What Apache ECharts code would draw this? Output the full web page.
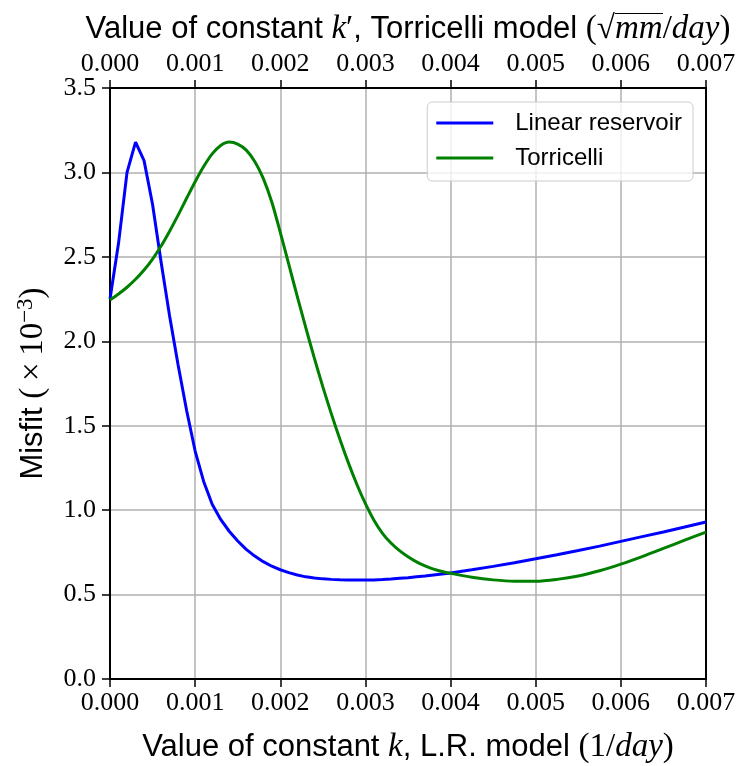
<!DOCTYPE html>
<html><head><meta charset="utf-8">
<script src="https://cdn.jsdelivr.net/npm/echarts@6/dist/echarts.min.js"></script>
<style>html,body{margin:0;padding:0;background:#fff}#c{width:742px;height:766px}</style>
</head><body><div id="c"></div>
<script>
// Values of constant k (bottom axis) and k' (top axis)
const kValues = [
  0.0000,0.0001,0.0002,0.0003,0.0004,0.0005,0.0006,0.0007,0.0008,0.0009,
  0.0010,0.0011,0.0012,0.0013,0.0014,0.0015,0.0016,0.0017,0.0018,0.0019,
  0.0020,0.0021,0.0022,0.0023,0.0024,0.0025,0.0026,0.0027,0.0028,0.0029,
  0.0030,0.0031,0.0032,0.0033,0.0034,0.0035,0.0036,0.0037,0.0038,0.0039,
  0.0040,0.00425,0.0045,0.00475,0.0050,0.00525,0.0055,0.00575,0.0060,0.00625,
  0.0065,0.00675,0.0070
];
// Misfit (x10^-3), Linear reservoir
const linearReservoir = [
  2.25,2.58,3.00,3.18,3.07,2.81,2.47,2.15,1.86,1.59,
  1.35,1.17,1.035,0.945,0.875,0.817,0.768,0.728,0.695,0.668,
  0.647,0.630,0.616,0.605,0.598,0.593,0.590,0.588,0.587,0.586,
  0.586,0.587,0.589,0.592,0.596,0.600,0.605,0.610,0.616,0.622,
  0.628,0.647,0.667,0.689,0.712,0.736,0.761,0.787,0.815,0.843,
  0.871,0.900,0.930
];
// Misfit (x10^-3), Torricelli
const torricelli = [
  2.245,2.28,2.32,2.367,2.422,2.487,2.564,2.652,2.747,2.847,
  2.945,3.035,3.11,3.16,3.18,3.168,3.132,3.065,2.965,2.825,
  2.645,2.455,2.265,2.08,1.90,1.73,1.57,1.42,1.28,1.152,
  1.038,0.94,0.863,0.805,0.76,0.724,0.694,0.67,0.651,0.637,
  0.626,0.603,0.587,0.579,0.579,0.590,0.610,0.641,0.680,0.725,
  0.773,0.822,0.870
];
const xTickLabels = ['0.000','0.001','0.002','0.003','0.004','0.005','0.006','0.007'];
const yTickLabels = ['0.0','0.5','1.0','1.5','2.0','2.5','3.0','3.5'];

const serif = 'Liberation Serif';
const sans = 'Liberation Sans';

// thin bar image used as the overline of the square root
const bar = document.createElement('canvas');
bar.width = 4; bar.height = 42;
(function () {
  const g = bar.getContext('2d');
  g.fillStyle = '#000';
  g.fillRect(0, 0, 4, 2);
})();

const nameRich = {
  s: {fontFamily: sans, fontSize: 31, color: '#000'},
  m: {fontFamily: serif, fontStyle: 'italic', fontSize: 33, color: '#000'},
  r: {fontFamily: serif, fontSize: 33, color: '#000'},
  o: {fontFamily: serif, fontStyle: 'italic', fontSize: 33, color: '#000',
      lineHeight: 42, backgroundColor: {image: bar}},
  sup: {fontFamily: serif, fontSize: 23, color: '#000', padding: [0, 0, 15, 0]}
};
const xFmt = v => xTickLabels[Math.round(v / 0.001)];
const yFmt = v => yTickLabels[Math.round(v / 0.5)];

function xAxisBase(pos) {
  return {
    type: 'value', position: pos, min: 0, max: 0.007, interval: 0.001,
    axisLine: {show: true, onZero: false, lineStyle: {color: '#000', width: 2}},
    axisTick: {show: true, length: 8, lineStyle: {color: '#000', width: 1.5}},
    axisLabel: {margin: 11, fontFamily: serif, fontSize: 26, color: '#000', formatter: xFmt},
    nameLocation: 'middle', nameTextStyle: {rich: nameRich}
  };
}

const chart = echarts.init(document.getElementById('c'), null, {renderer: 'canvas'});
chart.setOption({
  animation: false,
  backgroundColor: '#fff',
  grid: {left: 110, right: 36, top: 88, bottom: 87, containLabel: false, outerBoundsMode: 'none'},
  xAxis: [
    Object.assign(xAxisBase('bottom'), {
      splitLine: {show: true, lineStyle: {color: '#b0b0b0', width: 1.5}},
      name: '{s|Value of constant }{m|k}{s|, L.R. model }{r|(1/}{m|day}{r|)}',
      nameGap: 52
    }),
    Object.assign(xAxisBase('top'), {
      splitLine: {show: false},
      name: '{s|Value of constant }{m|k}{r|\u2032}{s|, Torricelli model }{r|(\u221A}{o|mm}{r|/}{m|day}{r|)}',
      nameGap: 38
    })
  ],
  yAxis: [
    {
      type: 'value', position: 'left', min: 0, max: 3.5, interval: 0.5,
      axisLine: {show: true, onZero: false, lineStyle: {color: '#000', width: 2}},
      axisTick: {show: true, length: 8, lineStyle: {color: '#000', width: 1.5}},
      axisLabel: {margin: 14, fontFamily: serif, fontSize: 26, color: '#000', formatter: yFmt},
      splitLine: {show: true, lineStyle: {color: '#b0b0b0', width: 1.5}},
      name: '{s|Misfit }{r|(\u2009\u00D7\u200910}{sup|\u22123}{r|)}',
      nameLocation: 'middle', nameGap: 58, nameTextStyle: {rich: nameRich}
    },
    {
      type: 'value', position: 'right', min: 0, max: 3.5, interval: 0.5,
      axisLine: {show: true, onZero: false, lineStyle: {color: '#000', width: 2}},
      axisTick: {show: false}, axisLabel: {show: false}, splitLine: {show: false}
    }
  ],
  legend: {
    orient: 'vertical', right: 49, top: 102,
    icon: 'rect', itemWidth: 57, itemHeight: 3, itemGap: 9,
    padding: [8, 11, 10, 9],
    backgroundColor: 'rgba(255,255,255,0.8)',
    borderColor: '#cccccc', borderWidth: 1, borderRadius: 5,
    textStyle: {fontFamily: sans, fontSize: 24, color: '#000', lineHeight: 26, padding: [0, 0, 0, 17]},
    data: ['Linear reservoir', 'Torricelli']
  },
  series: [
    {
      name: 'Linear reservoir', type: 'line', xAxisIndex: 0, yAxisIndex: 0,
      data: kValues.map((k, i) => [k, linearReservoir[i]]),
      symbol: 'none', showSymbol: false, smooth: false,
      lineStyle: {color: '#0000ff', width: 3}, itemStyle: {color: '#0000ff'}
    },
    {
      name: 'Torricelli', type: 'line', xAxisIndex: 1, yAxisIndex: 0,
      data: kValues.map((k, i) => [k, torricelli[i]]),
      symbol: 'none', showSymbol: false, smooth: 0.3,
      lineStyle: {color: '#008000', width: 3}, itemStyle: {color: '#008000'}
    }
  ]
});
</script>
</body></html>
